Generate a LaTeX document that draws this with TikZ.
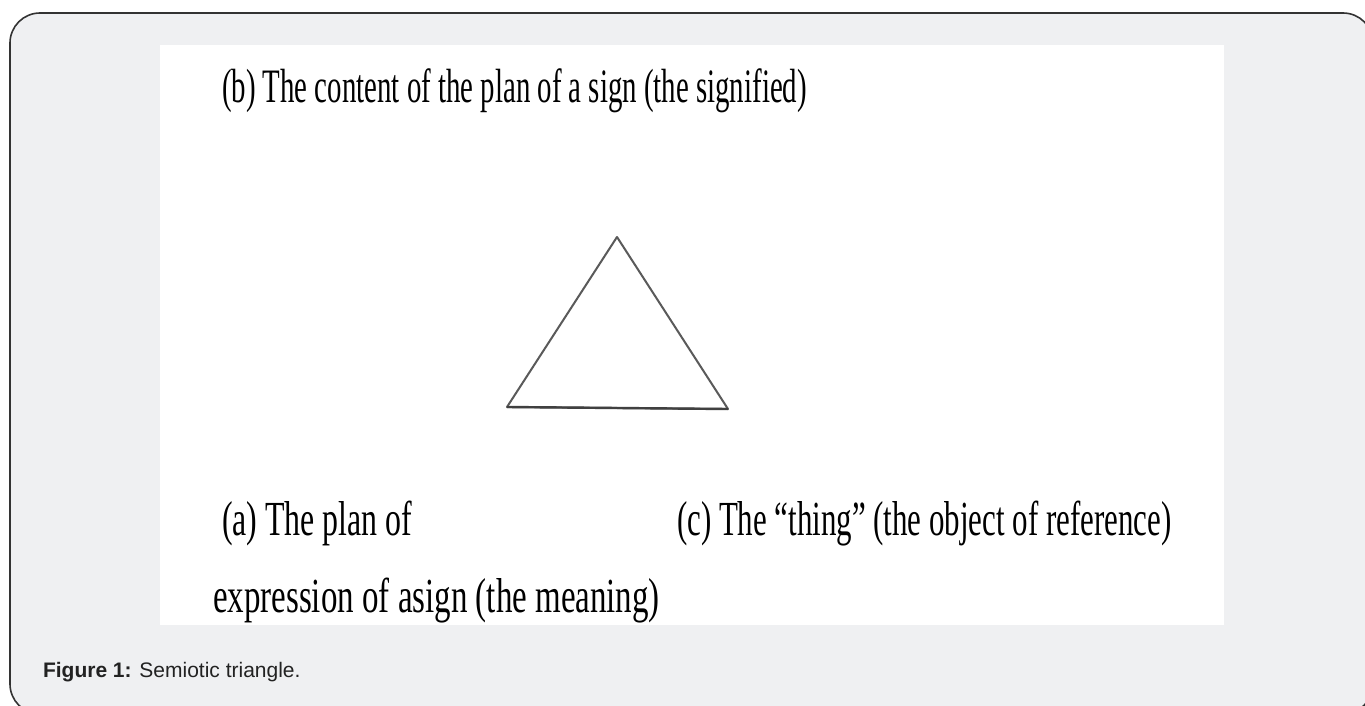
\documentclass[tikz,border=0pt]{standalone}
\usepackage{fontspec}
\setmainfont{Liberation Serif}
\newfontfamily\capfont{Liberation Sans}
\definecolor{panelgray}{HTML}{EFF0F2}
\definecolor{framecol}{HTML}{333333}
\definecolor{tricol}{HTML}{5A5A5A}
\definecolor{capcol}{HTML}{222222}
\tikzset{
  lbl/.style={anchor=base west, inner sep=0pt, outer sep=0pt, text=black},
  tri/.style={draw=tricol, line width=2pt, line join=round},
}
\begin{document}
\begin{tikzpicture}[x=1pt,y=-1pt]
\useasboundingbox (0,0) rectangle (1365,706);
\clip (0,0) rectangle (1365,706);
\fill[white] (0,0) rectangle (1365,706);
\draw[draw=framecol, fill=panelgray, line width=1.6pt, rounded corners=30pt] (10,13) rectangle (1373,714);
\fill[white] (160,45) rectangle (1224,625);
% triangle
\coordinate (apex) at (617,237);
\coordinate (bl) at (507,407);
\coordinate (br) at (728,409);
\draw[tri] (apex) -- (br) -- (bl) -- cycle;
\draw[draw=black!75, line width=2.4pt] (bl) -- (br);
% labels
\node[lbl] (b) at (222,103) {\fontsize{48}{56}\selectfont\scalebox{0.601}[1]{(b) The content of the plan of a sign (the signified)}};
\node[lbl] (a) at (222,535) {\fontsize{49}{58}\selectfont\scalebox{0.65}[1]{(a) The plan of}};
\node[lbl] (a2) at (213,612) {\fontsize{49}{58}\selectfont\scalebox{0.673}[1]{expression of asign (the meaning)}};
\node[lbl] (c) at (677,535) {\fontsize{49}{58}\selectfont\scalebox{0.631}[1]{(c) The “thing” (the object of reference)}};
% caption
\node[lbl, text=capcol] (cap) at (43,677) {\capfont\fontsize{21}{25}\selectfont\textbf{Figure 1:} Semiotic triangle.};
\end{tikzpicture}
\end{document}
